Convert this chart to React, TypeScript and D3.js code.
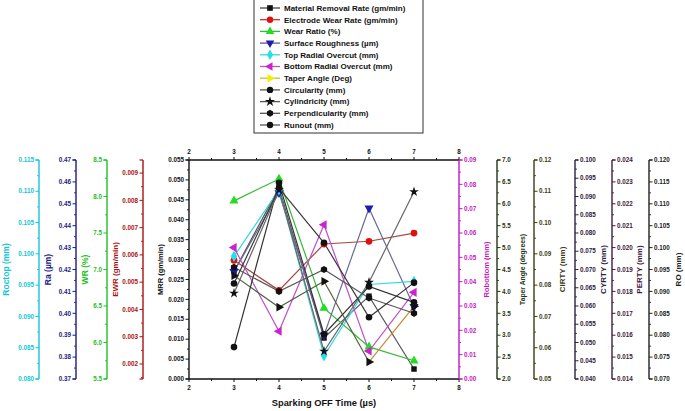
import React from 'react';
import * as d3 from 'd3';

// ---------- data ----------
const sparkingOff = [3, 4, 5, 6, 7];
const xTicks = [2, 3, 4, 5, 6, 7, 8];
const mrr = [0.027, 0.048, 0.0103, 0.0208, 0.0025];
const ewr = [0.0058, 0.0047, 0.0064, 0.0065, 0.0068];
const wr = [7.94, 8.24, 6.47, 5.94, 5.75];
const ra = [0.419, 0.455, 0.39, 0.448, 0.403];
const roctop = [0.0996, 0.1102, 0.0837, 0.0951, 0.0956];
const robottom = [0.054, 0.0196, 0.0634, 0.0115, 0.0356];
const taper = [4.36, 3.64, 4.23, 2.39, 3.66];
const cirty = [0.0602, 0.1127, 0.0643, 0.0796, 0.0745];
const cyrty = [0.0635, 0.0918, 0.0476, 0.0665, 0.0913];
const perty = [0.0191, 0.018, 0.019, 0.0177, 0.017];
const ro = [0.0918, 0.1136, 0.1011, 0.0841, 0.092];

const legendLabels = [
  'Material Removal Rate (gm/min)',
  'Electrode Wear Rate (gm/min)',
  'Wear Ratio (%)',
  'Surface Roughness (µm)',
  'Top Radial Overcut (mm)',
  'Bottom Radial Overcut (mm)',
  'Taper Angle (Deg)',
  'Circularity (mm)',
  'Cylindricity (mm)',
  'Perpendicularity (mm)',
  'Runout (mm)',
];

// ---------- layout ----------
const W = 685, H = 411;
const TOP = 160, BOT = 379;
const X0 = 189, X1 = 459;
const FONT = "'Liberation Sans', Arial, Helvetica, sans-serif";

const xScale = d3.scaleLinear().domain([2, 8]).range([X0, X1]);

type AxisCfg = {
  key: string; x: number; side: 'left' | 'right'; domain: [number, number];
  step: number; dec: number; color: string; title: string; tx: number; fs: number;
};

const axes: AxisCfg[] = [
  { key: 'roctop', x: 39, side: 'left', domain: [0.08, 0.115], step: 0.005, dec: 3, color: '#12c6d6', title: 'Roctop (mm)', tx: 6, fs: 8.5 },
  { key: 'ra', x: 76, side: 'left', domain: [0.37, 0.47], step: 0.01, dec: 2, color: '#1c1c86', title: 'Ra (µm)', tx: 48, fs: 8.5 },
  { key: 'wr', x: 107, side: 'left', domain: [5.5, 8.5], step: 0.5, dec: 1, color: '#22c022', title: 'WR (%)', tx: 85, fs: 8.5 },
  { key: 'ewr', x: 143, side: 'left', domain: [0.00145, 0.00948], step: 0.001, dec: 3, color: '#a81212', title: 'EWR (gm/min)', tx: 115, fs: 8 },
  { key: 'mrr', x: X0, side: 'left', domain: [0, 0.055], step: 0.005, dec: 3, color: '#111111', title: 'MRR (gm/min)', tx: 160, fs: 7.5 },
  { key: 'rob', x: X1, side: 'right', domain: [0, 0.09], step: 0.01, dec: 2, color: '#c416c4', title: 'Robottom (mm)', tx: 486, fs: 7.5 },
  { key: 'taper', x: 497, side: 'right', domain: [2, 7], step: 0.5, dec: 1, color: '#1f3514', title: 'Taper Angle (degrees)', tx: 523, fs: 6.8 },
  { key: 'cirty', x: 534, side: 'right', domain: [0.05, 0.12], step: 0.01, dec: 2, color: '#3c3c14', title: 'CIRTY (mm)', tx: 562, fs: 8 },
  { key: 'cyrty', x: 575, side: 'right', domain: [0.04, 0.1], step: 0.005, dec: 3, color: '#2c2040', title: 'CYRTY (mm)', tx: 603, fs: 8 },
  { key: 'perty', x: 612, side: 'right', domain: [0.014, 0.024], step: 0.001, dec: 3, color: '#3c2040', title: 'PERTY (mm)', tx: 639, fs: 8 },
  { key: 'ro', x: 649, side: 'right', domain: [0.07, 0.12], step: 0.005, dec: 3, color: '#222222', title: 'RO (mm)', tx: 678, fs: 8 },
];

const yScales: Record<string, d3.ScaleLinear<number, number>> = {};
axes.forEach(a => { yScales[a.key] = d3.scaleLinear().domain(a.domain).range([BOT, TOP]); });

const hexagon: d3.SymbolType = {
  draw(ctx: any, size: number) {
    const r = Math.sqrt(size / 2.6);
    for (let i = 0; i < 6; i++) {
      const a = Math.PI / 6 + (i * Math.PI) / 3;
      const px = r * Math.cos(a), py = r * Math.sin(a);
      if (i === 0) ctx.moveTo(px, py); else ctx.lineTo(px, py);
    }
    ctx.closePath();
  },
};

type Series = {
  values: number[]; axis: string; sym: d3.SymbolType; rot: number; size: number;
  fill: string; line: string; legendFill: string; legendLine: string; lastSeg?: string;
};

const series: Series[] = [
  { values: mrr, axis: 'mrr', sym: d3.symbolSquare, rot: 0, size: 30, fill: '#111', line: '#555', legendFill: '#111', legendLine: '#444' },
  { values: ewr, axis: 'ewr', sym: d3.symbolCircle, rot: 0, size: 36, fill: '#e01010', line: '#a8463c', legendFill: '#e01010', legendLine: '#d03030' },
  { values: wr, axis: 'wr', sym: d3.symbolTriangle, rot: 0, size: 36, fill: '#22dd22', line: '#33bb33', legendFill: '#22dd22', legendLine: '#33bb33' },
  { values: ra, axis: 'ra', sym: d3.symbolTriangle, rot: 180, size: 36, fill: '#1c1cb0', line: '#6a6a98', legendFill: '#1c1cb0', legendLine: '#5a5a98' },
  { values: roctop, axis: 'roctop', sym: d3.symbolDiamond, rot: 0, size: 36, fill: '#22e0e8', line: '#30d8e0', legendFill: '#22e0e8', legendLine: '#30d8e0' },
  { values: robottom, axis: 'rob', sym: d3.symbolTriangle, rot: -90, size: 36, fill: '#cc22cc', line: '#c050c8', legendFill: '#cc22cc', legendLine: '#c050c8' },
  { values: taper, axis: 'taper', sym: d3.symbolTriangle, rot: 90, size: 34, fill: '#111', line: '#52603c', legendFill: '#f2f000', legendLine: '#c8c030', lastSeg: '#c88838' },
  { values: cirty, axis: 'cirty', sym: d3.symbolCircle, rot: 0, size: 34, fill: '#111', line: '#333', legendFill: '#111', legendLine: '#555' },
  { values: cyrty, axis: 'cyrty', sym: d3.symbolStar, rot: 0, size: 30, fill: '#111', line: '#666', legendFill: '#111', legendLine: '#555' },
  { values: perty, axis: 'perty', sym: hexagon, rot: 0, size: 34, fill: '#111', line: '#5a5a5a', legendFill: '#111', legendLine: '#555' },
  { values: ro, axis: 'ro', sym: d3.symbolCircle, rot: 0, size: 34, fill: '#111', line: '#3a3a3a', legendFill: '#111', legendLine: '#555' },
];

function ticksFor(a: AxisCfg) {
  const [lo, hi] = a.domain;
  const start = Math.ceil(lo / a.step - 1e-6);
  const end = Math.floor(hi / a.step + 1e-6);
  const major = d3.range(start, end + 1).map(i => +(i * a.step).toFixed(6));
  const hs = a.step / 2;
  const ms = Math.ceil(lo / hs - 1e-6), me = Math.floor(hi / hs + 1e-6);
  const minor = d3.range(ms, me + 1).map(i => +(i * hs).toFixed(7)).filter(v => !major.some(m => Math.abs(m - v) < hs / 10));
  return { major, minor };
}

function Axis({ a }: { a: AxisCfg }) {
  const y = yScales[a.key];
  const { major, minor } = ticksFor(a);
  const dir = a.side === 'left' ? -1 : 1;
  const fmt = d3.format(`.${a.dec}f`);
  return (
    <g>
      <line x1={a.x} x2={a.x} y1={TOP} y2={BOT} stroke={a.color} strokeWidth={1.4} />
      <line x1={a.x} x2={a.x + dir * 3.5} y1={TOP} y2={TOP} stroke={a.color} strokeWidth={1.2} />
      <line x1={a.x} x2={a.x + dir * 3.5} y1={BOT} y2={BOT} stroke={a.color} strokeWidth={1.2} />
      {major.map(v => (
        <g key={'M' + v}>
          <line x1={a.x} x2={a.x + dir * 3.5} y1={y(v)} y2={y(v)} stroke={a.color} strokeWidth={1} />
          <text x={a.x + dir * 5} y={y(v)} dy="0.35em" textAnchor={a.side === 'left' ? 'end' : 'start'}
            fontSize={6.3} fontWeight="bold" fill={a.color} fontFamily={FONT}>{fmt(v)}</text>
        </g>
      ))}
      {minor.map(v => (
        <line key={'m' + v} x1={a.x} x2={a.x + dir * 2} y1={y(v)} y2={y(v)} stroke={a.color} strokeWidth={0.9} />
      ))}
      <text transform={`translate(${a.tx},${(TOP + BOT) / 2}) rotate(-90)`} textAnchor="middle" dy="0.35em"
        fontSize={a.fs} fontWeight="bold" fill={a.color} fontFamily={FONT}>{a.title}</text>
    </g>
  );
}

function symPath(s: Series, size: number) {
  return d3.symbol().type(s.sym).size(size)() as string;
}

export default function App() {
  const minorX = d3.range(2.5, 8, 1);
  return (
    <svg width={W} height={H} style={{ position: 'absolute', left: 0, top: 0, background: '#fff' }}>
      <rect x={0} y={0} width={W} height={H} fill="#fff" />
      {/* frame top/bottom axes */}
      <line x1={X0} x2={X1} y1={TOP} y2={TOP} stroke="#111" strokeWidth={1.4} />
      <line x1={X0} x2={X1} y1={BOT} y2={BOT} stroke="#111" strokeWidth={1.4} />
      {xTicks.map(t => (
        <g key={'xt' + t}>
          <line x1={xScale(t)} x2={xScale(t)} y1={BOT} y2={BOT + 3} stroke="#111" />
          <line x1={xScale(t)} x2={xScale(t)} y1={TOP} y2={TOP - 3} stroke="#111" />
          <text x={xScale(t)} y={BOT + 11} textAnchor="middle" fontSize={6.3} fontWeight="bold" fontFamily={FONT} fill="#111">{t}</text>
          <text x={xScale(t)} y={TOP - 6} textAnchor="middle" fontSize={6.3} fontWeight="bold" fontFamily={FONT} fill="#111">{t}</text>
        </g>
      ))}
      {minorX.map(t => (
        <g key={'xm' + t}>
          <line x1={xScale(t)} x2={xScale(t)} y1={BOT} y2={BOT + 2} stroke="#111" />
          <line x1={xScale(t)} x2={xScale(t)} y1={TOP} y2={TOP - 2} stroke="#111" />
        </g>
      ))}
      <text x={(X0 + X1) / 2} y={406} textAnchor="middle" fontSize={9.3} fontWeight="bold" fontFamily={FONT} fill="#111">Sparking OFF Time (µs)</text>

      {axes.map(a => <Axis key={a.key} a={a} />)}

      {/* lines */}
      {series.map((s, i) => {
        const y = yScales[s.axis];
        const pts = sparkingOff.map((xv, j) => [xScale(xv), y(s.values[j])] as [number, number]);
        const lineGen = d3.line();
        const main = s.lastSeg ? pts.slice(0, pts.length - 1) : pts;
        return (
          <g key={'l' + i}>
            <path d={lineGen(main) as string} fill="none" stroke={s.line} strokeWidth={1.2} />
            {s.lastSeg && <path d={lineGen(pts.slice(pts.length - 2)) as string} fill="none" stroke={s.lastSeg} strokeWidth={1.2} />}
          </g>
        );
      })}
      {/* markers */}
      {series.map((s, i) => {
        const y = yScales[s.axis];
        const d = symPath(s, s.size);
        return (
          <g key={'p' + i}>
            {sparkingOff.map((xv, j) => (
              <path key={j} d={d} transform={`translate(${xScale(xv)},${y(s.values[j])}) rotate(${s.rot})`} fill={s.fill} />
            ))}
          </g>
        );
      })}

      {/* legend */}
      <rect x={254} y={-1} width={169} height={134} fill="#fff" stroke="#333" strokeWidth={1} />
      {legendLabels.map((lab, i) => {
        const s = series[i];
        const ly = 8 + i * 11.7;
        return (
          <g key={'lg' + i}>
            <line x1={260} x2={280} y1={ly} y2={ly} stroke={s.legendLine} strokeWidth={1.3} />
            <path d={symPath(s, 32)} transform={`translate(270,${ly}) rotate(${s.rot})`} fill={s.legendFill} />
            <text x={284} y={ly} dy="0.35em" fontSize={8} fontWeight="bold" fontFamily={FONT} fill="#111">{lab}</text>
          </g>
        );
      })}
    </svg>
  );
}
